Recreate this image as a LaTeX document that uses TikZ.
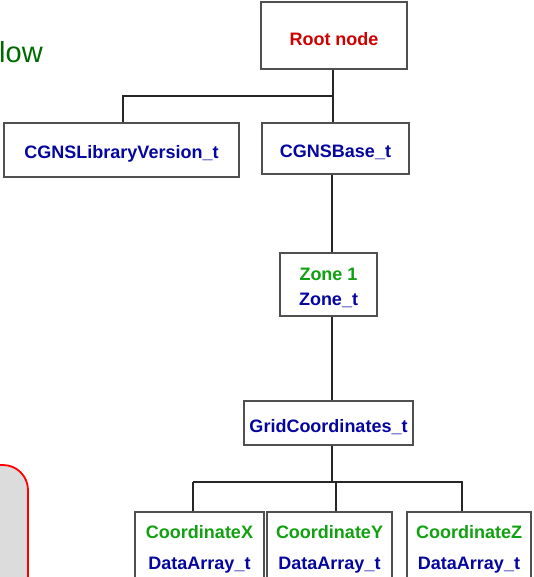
\documentclass[tikz,border=0pt]{standalone}
\usepackage{fontspec}
\setmainfont{Liberation Sans}
\definecolor{nodered}{HTML}{D00000}
\definecolor{typeblue}{HTML}{0505A0}
\definecolor{namegreen}{HTML}{10A010}
\definecolor{headgreen}{HTML}{006A00}
\definecolor{boxgray}{HTML}{505050}
\definecolor{panelfill}{HTML}{DCDCDC}
\begin{document}
\begin{tikzpicture}[x=1pt,y=-1pt,
  treebox/.style={draw=boxgray,line width=1.3pt,fill=white,inner sep=0pt},
  boxtext/.style={inner sep=0pt,align=center,
    font=\fontsize{18}{25}\selectfont\bfseries},
  pairtext/.style={boxtext,font=\fontsize{18}{31}\selectfont\bfseries},
  link/.style={draw=black!85,line width=1.1pt},
  trunk/.style={draw=black!85,line width=2pt}]
\useasboundingbox (0,0) rectangle (533,577);

% side panel partly outside the frame
\draw[red,line width=1.8pt,fill=panelfill,rounded corners=25pt]
  (-60,620) -- (-60,465) -- (28,465) -- (28,620);

\node[anchor=base west,inner sep=0pt,text=headgreen,font=\fontsize{29}{32}\selectfont] (head) at (-1,63) {low};

% tree nodes
\node[treebox,minimum width=146pt,minimum height=67pt,
  label={[boxtext,text=nodered,yshift=-3.5pt]center:Root node}] (root) at (334,35.5) {};
\node[treebox,minimum width=235pt,minimum height=54pt,
  label={[boxtext,text=typeblue,yshift=-4pt]center:CGNSLibraryVersion\_t}] (lib) at (121.5,150) {};
\node[treebox,minimum width=147pt,minimum height=51pt,
  label={[boxtext,text=typeblue,yshift=-3.5pt]center:CGNSBase\_t}] (base) at (335.5,148.5) {};
\node[treebox,minimum width=97pt,minimum height=63pt,
  label={[boxtext,yshift=-3pt]center:\textcolor{namegreen}{Zone 1}\\\textcolor{typeblue}{Zone\_t}}] (zone) at (328.5,284.5) {};
\node[treebox,minimum width=169pt,minimum height=44pt,
  label={[boxtext,text=typeblue,yshift=-4.5pt]center:GridCoordinates\_t}] (grid) at (328.5,423) {};
\node[treebox,minimum width=129pt,minimum height=78pt,
  label={[pairtext,yshift=2pt]center:\textcolor{namegreen}{CoordinateX}\\\textcolor{typeblue}{DataArray\_t}}] (cx) at (199.5,551) {};
\node[treebox,minimum width=125pt,minimum height=78pt,
  label={[pairtext,yshift=2pt]center:\textcolor{namegreen}{CoordinateY}\\\textcolor{typeblue}{DataArray\_t}}] (cy) at (329.5,551) {};
\node[treebox,minimum width=124pt,minimum height=78pt,
  label={[pairtext,yshift=2pt]center:\textcolor{namegreen}{CoordinateZ}\\\textcolor{typeblue}{DataArray\_t}}] (cz) at (469,551) {};

% junction points of the connectors
\coordinate (top) at (333,96);
\coordinate (libdrop) at (123,96);
\coordinate (spine) at (332,0);
\coordinate (bus) at (332,482);
\coordinate (xdrop) at (193,482);
\coordinate (ydrop) at (336,482);
\coordinate (zdrop) at (462,482);
\coordinate (busmid) at (311,482);

% connectors
\draw[trunk] (root.south -| top) -- (base.north -| top);
\draw[link] (top) -- (libdrop) -- (lib.north -| libdrop);
\draw[trunk] (base.south -| spine) -- (zone.north -| spine);
\draw[trunk] (zone.south -| spine) -- (grid.north -| spine);
\draw[trunk] (grid.south -| spine) -- (bus);
\draw[link] (xdrop) -- (zdrop);
\draw[trunk] (busmid) -- (zdrop) -- (cz.north -| zdrop);
\draw[link] (xdrop) -- (cx.north -| xdrop);
\draw[link] (ydrop) -- (cy.north -| ydrop);
\end{tikzpicture}
\end{document}
